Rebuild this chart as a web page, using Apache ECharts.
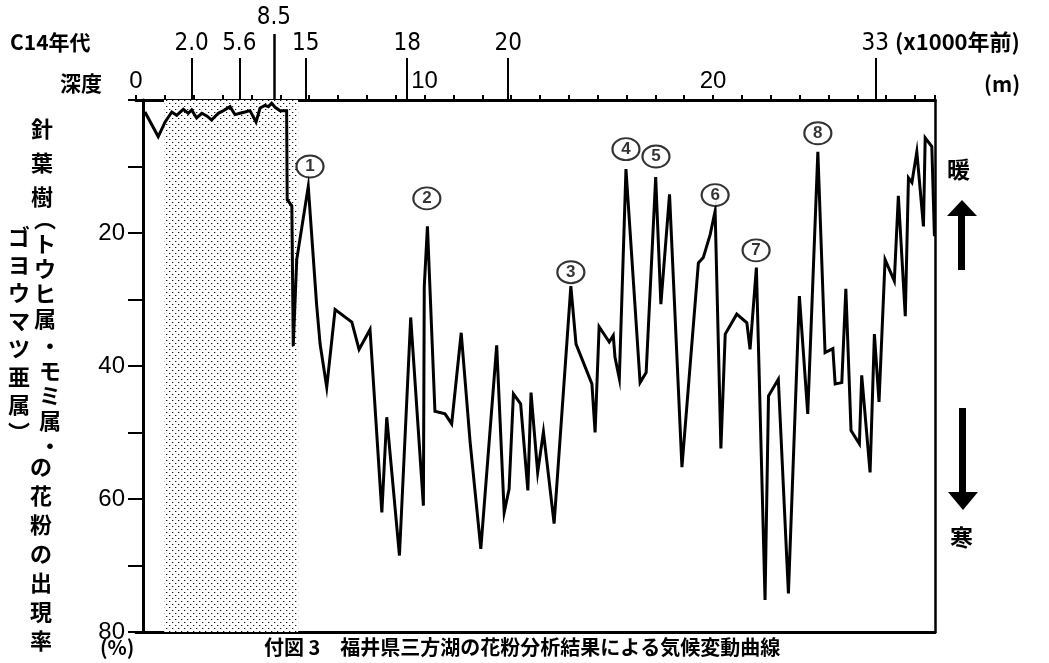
<!DOCTYPE html>
<html><head><meta charset="utf-8">
<script src="https://cdn.jsdelivr.net/npm/echarts@6/dist/echarts.min.js"></script>
<style>html,body{margin:0;padding:0;background:#fff}#c{width:1049px;height:663px}</style>
</head><body><div id="c"></div>
<script>
// depth (m) and conifer pollen percentage
const depth = [0.31,0.77,1.01,1.24,1.41,1.64,1.81,1.93,2.10,2.28,2.45,2.62,2.85,3.03,3.26,3.43,3.60,3.78,3.95,4.16,4.30,4.47,4.59,4.70,4.82,4.99,5.22,5.24,5.40,5.45,5.57,5.97,6.26,6.38,6.61,6.90,7.48,7.73,8.11,8.52,8.69,9.13,9.52,9.96,9.99,10.10,10.36,10.71,10.94,11.27,11.58,11.95,12.50,12.76,12.93,13.08,13.33,13.58,13.69,13.92,14.12,14.49,15.07,15.25,15.80,15.91,16.05,16.40,16.54,16.60,16.75,16.98,17.47,17.68,18.01,18.19,18.49,18.92,19.49,19.66,19.90,20.07,20.27,20.42,20.82,21.17,21.28,21.50,21.80,21.92,22.26,22.61,22.99,23.28,23.63,23.88,24.15,24.23,24.46,24.60,24.78,25.07,25.15,25.44,25.59,25.75,25.96,26.28,26.42,26.66,26.77,26.89,27.06,27.29,27.35,27.58,27.67];
const pollen = [1.8,5.5,3.3,1.8,2.3,1.4,2.0,1.5,2.7,2.0,2.4,3.0,2.0,1.6,1.0,2.2,2.0,1.8,1.6,3.3,1.2,0.8,1.0,0.5,1.1,1.6,1.6,15.0,15.9,37.0,24.0,13.0,30.8,36.7,43.2,31.5,33.4,37.5,34.5,62.0,47.7,68.5,32.7,61.0,28.1,19.0,46.8,47.2,48.7,35.0,51.5,67.5,36.9,62.0,58.5,44.2,45.7,58.7,44.0,56.0,49.9,63.7,28.0,36.7,42.7,50.0,34.1,36.4,35.4,38.7,41.9,10.4,42.5,41.0,11.6,30.7,14.2,55.2,24.5,23.7,20.2,16.7,52.4,35.2,32.2,33.5,37.5,25.2,75.2,44.5,42.0,74.2,29.5,47.2,7.8,38.0,37.4,42.7,42.5,28.4,49.7,51.7,41.4,56.0,35.2,45.4,24.0,27.2,14.4,32.5,11.7,12.4,7.8,19.0,5.7,7.0,20.5];
// warm peaks (circled numbers)
const peakDepth = [6.03,10.08,15.07,16.98,18.02,20.07,21.49,23.63];
const peakValue = [10.0,14.8,25.9,7.4,8.5,14.3,22.6,5.0];
const peakLabel = ['1','2','3','4','5','6','7','8'];
// depth axis labels
const depthLabels = [0,10,20];
// C14 ages (x1000 years BP) placed at depths
const c14Depth = [1.93,3.58,5.88,9.40,12.90,25.62];
const c14Label = ['2.0','5.6','15','18','20','33'];
const c14HighDepth = [4.78];
const c14HighLabel = ['8.5'];
// y-axis labels
const yLabels = [20,40,60,80];
// shaded interval (depth)
const shadeFrom = 0.97, shadeTo = 5.62;

const XMAX = 27.69;
const pc = document.createElement('canvas'); pc.width = 6; pc.height = 6;
const g = pc.getContext('2d');
g.fillStyle = '#fff'; g.fillRect(0,0,6,6);
g.fillStyle = '#111'; g.fillRect(1,1,1,1); g.fillRect(4,4,1,1);
g.fillStyle = '#bbb'; g.fillRect(2,1,1,1); g.fillRect(5,4,1,1);

const numFont = 'Liberation Sans, Arial, sans-serif';
const narrowFont = 'Liberation Sans Narrow, DejaVu Sans Condensed, sans-serif';
const cjk = 'Noto Sans CJK JP, sans-serif';

const chart = echarts.init(document.getElementById('c'), null, {renderer:'canvas'});

chart.setOption({
  animation: false,
  backgroundColor: '#fff',
  grid: {left: 136, right: 1049 - 935, top: 100, bottom: 31, containLabel: false},
  xAxis: [
    {type:'value', position:'top', min:0, max:XMAX, interval:1,
     axisLine:{show:true, onZero:false, lineStyle:{color:'#000', width:3}},
     axisTick:{show:true, inside:false, length:5, lineStyle:{color:'#000', width:2}},
     axisLabel:{show:true, interval:0, margin:7, fontSize:24, fontFamily:numFont, color:'#000',
       formatter: v => depthLabels.includes(v) ? String(v) : ''},
     splitLine:{show:false}},
    {type:'value', position:'top', min:0, max:XMAX, offset:0,
     axisLine:{show:false, onZero:false},
     axisTick:{show:true, length:42, customValues: c14Depth, lineStyle:{color:'#000', width:2}},
     axisLabel:{show:true, margin:44, fontSize:24, fontFamily:narrowFont, color:'#000', customValues: c14Depth,
       formatter: v => { const i = c14Depth.indexOf(v); return i >= 0 ? c14Label[i] : ''; }},
     splitLine:{show:false}},
    {type:'value', position:'top', min:0, max:XMAX, offset:0,
     axisLine:{show:false, onZero:false},
     axisTick:{show:true, length:66, customValues: c14HighDepth, lineStyle:{color:'#000', width:2.5}},
     axisLabel:{show:true, margin:70, fontSize:24, fontFamily:narrowFont, color:'#000', customValues: c14HighDepth,
       formatter: v => { const i = c14HighDepth.indexOf(v); return i >= 0 ? c14HighLabel[i] : ''; }},
     splitLine:{show:false}},
    {type:'value', position:'bottom', min:0, max:XMAX,
     axisLine:{show:true, onZero:false, lineStyle:{color:'#000', width:3}},
     axisTick:{show:false}, axisLabel:{show:false}, splitLine:{show:false}}
  ],
  yAxis: [
    {type:'value', inverse:true, min:0, max:80, interval:10, position:'left', offset:-7,
     axisLine:{show:true, onZero:false, lineStyle:{color:'#000', width:3}},
     axisTick:{show:true, length:15, lineStyle:{color:'#000', width:2}},
     axisLabel:{show:true, margin:18, fontSize:24, fontFamily:numFont, color:'#000',
       formatter: v => yLabels.includes(v) ? String(v) : ''},
     splitLine:{show:false}},
    {type:'value', inverse:true, min:0, max:80, position:'right',
     axisLine:{show:true, onZero:false, lineStyle:{color:'#000', width:2.5}},
     axisTick:{show:false}, axisLabel:{show:false}, splitLine:{show:false}}
  ],
  series: [
    {type:'line', xAxisIndex:0, yAxisIndex:0, symbol:'none', z:3,
     data: depth.map((d,i) => [d, pollen[i]]),
     lineStyle:{color:'#000', width:3, join:'miter'},
     markArea:{silent:true, itemStyle:{color:{image: pc, repeat:'repeat'}, opacity:1},
       data:[[{xAxis: shadeFrom, yAxis: 0}, {xAxis: shadeTo, yAxis: 80}]]}},
    {type:'scatter', xAxisIndex:0, yAxisIndex:0, z:4,
     data: peakDepth.map((d,i) => [d, peakValue[i]]),
     symbol:'circle', symbolSize:[27,22],
     itemStyle:{color:'#fff', borderColor:'#000', borderWidth:2},
     label:{show:true, position:'inside', color:'#000', fontSize:17, fontWeight:'bold', fontFamily:numFont,
       formatter: p => peakLabel[p.dataIndex]}}
  ],
  graphic: [
    {type:'text', left:10, top:32, style:{text:'C14年代', font:'bold 21px ' + cjk, fill:'#000'}},
    {type:'text', left:60, top:73, style:{text:'深度', font:'bold 21px ' + cjk, fill:'#000'}},
    {type:'text', left:895, top:31, style:{text:'(x1000年前)', font:'bold 22px ' + cjk, fill:'#000'}},
    {type:'text', left:984, top:74, style:{text:'(m)', font:'bold 21px ' + cjk, fill:'#000'}},
    {type:'text', left:100, top:637, style:{text:'(%)', font:'bold 20px ' + cjk, fill:'#000'}},
    {type:'text', left:264, top:637, style:{text:'付図 3　福井県三方湖の花粉分析結果による気候変動曲線', font:'bold 20px ' + cjk, fill:'#000'}},
    {type:'text', left:947, top:158, style:{text:'暖', font:'bold 23px ' + cjk, fill:'#000'}},
    {type:'text', left:950, top:526, style:{text:'寒', font:'bold 23px ' + cjk, fill:'#000'}},
    {type:'polygon', shape:{points:[[947,216],[962,200],[977,216]]}, style:{fill:'#000'}},
    {type:'rect', shape:{x:958, y:214, width:7, height:56}, style:{fill:'#000'}},
    {type:'rect', shape:{x:959, y:408, width:7, height:86}, style:{fill:'#000'}},
    {type:'polygon', shape:{points:[[948,492],[978,492],[963,510]]}, style:{fill:'#000'}},
    {type:'text', left:31, top:112, style:{text:'針\n葉\n樹', font:'bold 22px ' + cjk, lineHeight:34, fill:'#000'}},
    {type:'text', left:34, top:206, style:{text:'︵\nト\nウ\nヒ\n属', font:'bold 22px ' + cjk, lineHeight:25, fill:'#000'}},
    {type:'text', left:39, top:333, style:{text:'・\nモ\nミ\n属\n・', font:'bold 22px ' + cjk, lineHeight:25, fill:'#000'}},
    {type:'text', left:8, top:223, style:{text:'ゴ\nヨ\nウ\nマ\nツ\n亜\n属\n︶', font:'bold 22px ' + cjk, lineHeight:28, fill:'#000'}},
    {type:'text', left:30, top:452, style:{text:'の\n花\n粉\nの\n出\n現\n率', font:'bold 22px ' + cjk, lineHeight:29, fill:'#000'}}
  ]
});
</script>
</body></html>
